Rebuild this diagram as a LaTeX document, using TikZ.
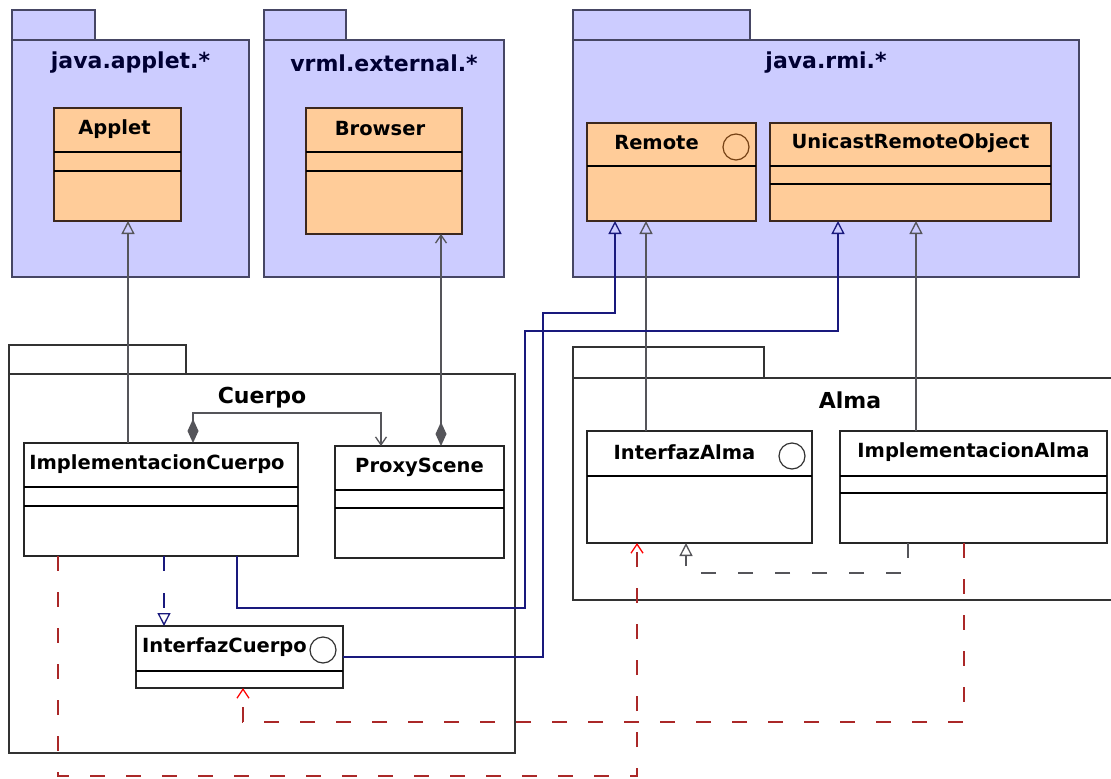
\documentclass[tikz,border=0pt]{standalone}
\usepackage{fontspec}
\setmainfont{DejaVu Sans}
\usetikzlibrary{arrows.meta,calc}

\definecolor{pkgfill}{RGB}{204,204,255}
\definecolor{pkgedge}{RGB}{70,70,100}
\definecolor{clsfill}{RGB}{255,204,153}
\definecolor{clsedge}{RGB}{60,40,30}
\definecolor{linkgray}{RGB}{85,85,90}
\definecolor{linkblue}{RGB}{25,25,125}
\definecolor{linkred}{RGB}{170,40,40}

\begin{document}
\begin{tikzpicture}[x=1pt, y=-1pt,
       pkg/.style={rectangle, draw=pkgedge, fill=pkgfill, line width=1.4pt,
               anchor=north west, inner sep=0pt, outer sep=0pt},
       wpkg/.style={pkg, draw=black!80, fill=white},
       tab/.style={anchor=south west},
       ptitle/.style={font=\fontsize{22}{26}\selectfont\bfseries, inner sep=0pt},
       cls/.style={rectangle, draw=clsedge, fill=clsfill, line width=1.4pt,
               anchor=north west, inner sep=0pt, outer sep=0pt},
       wcls/.style={cls, draw=black!85, fill=white},
       cname/.style={font=\fontsize{19.5}{22}\selectfont\bfseries, inner sep=0pt},
       iface/.style={circle, draw, line width=1.2pt, minimum size=26pt, inner sep=0pt},
       sep/.style={line width=1.4pt},
       gen/.style={draw=linkgray, line width=1.3pt, -{Triangle[open, length=13pt, width=13pt]}},
       bgen/.style={gen, draw=linkblue},
       comp/.style={draw=linkgray, line width=1.3pt,
               {Diamond[length=24pt, width=11pt]}-{Straight Barb[length=8pt, width=11pt]}},
       breal/.style={bgen, dash pattern=on 15pt off 22pt},
       greal/.style={gen, dash pattern=on 15pt off 22pt},
       dep/.style={draw=linkred, line width=1.3pt, dash pattern=on 15pt off 21pt,
               -{Straight Barb[length=9pt, width=12pt, color=red]}},
       ]
       \useasboundingbox (0,0) rectangle (1111,779);
       \clip (0,0) rectangle (1111,779);
       \fill[white] (0,0) rectangle (1111,779);

       % packages
       \node[pkg, minimum width=237, minimum height=237] (pkgapplet) at (12,40) {};
       \node[pkg, tab, minimum width=83, minimum height=30] at (pkgapplet.north west) {};
       \node[ptitle, text=black!80!blue] at ([yshift=-23pt]pkgapplet.north) {java.applet.*};

       \node[pkg, minimum width=240, minimum height=237] (pkgvrml) at (264,40) {};
       \node[pkg, tab, minimum width=82, minimum height=30] at (pkgvrml.north west) {};
       \node[ptitle, text=black!80!blue] at ([yshift=-23pt]pkgvrml.north) {vrml.external.*};

       \node[pkg, minimum width=506, minimum height=237] (pkgrmi) at (573,40) {};
       \node[pkg, tab, minimum width=177, minimum height=30] at (pkgrmi.north west) {};
       \node[ptitle, text=black!80!blue] at ([yshift=-23pt]pkgrmi.north) {java.rmi.*};

       \node[wpkg, minimum width=506, minimum height=379] (pkgcuerpo) at (9,374) {};
       \node[wpkg, tab, minimum width=177, minimum height=29] at (pkgcuerpo.north west) {};
       \node[ptitle] at ([yshift=-24pt]pkgcuerpo.north) {Cuerpo};

       \node[wpkg, minimum width=554, minimum height=222] (pkgalma) at (573,378) {};
       \node[wpkg, tab, minimum width=191, minimum height=31] at (pkgalma.north west) {};
       \node[ptitle] at ([yshift=-22pt]pkgalma.north) {Alma};

       % classes
       \node[cls, minimum width=127, minimum height=113] (applet) at (54,108) {};
       \node[cls, minimum width=156, minimum height=126] (browser) at (306,108) {};
       \node[cls, minimum width=169, minimum height=98] (remote) at (587,123) {};
       \node[cls, minimum width=281, minimum height=98] (unicast) at (770,123) {};
       \node[wcls, minimum width=274, minimum height=113] (implcuerpo) at (24,443) {};
       \node[wcls, minimum width=169, minimum height=112] (proxyscene) at (335,446) {};
       \node[wcls, minimum width=207, minimum height=62] (intcuerpo) at (136,626) {};
       \node[wcls, minimum width=225, minimum height=112] (intalma) at (587,431) {};
       \node[wcls, minimum width=267, minimum height=112] (implalma) at (840,431) {};

       \foreach \n/\d in {applet/44, applet/63, browser/44, browser/63, remote/43,
               unicast/43, unicast/61, implcuerpo/44, implcuerpo/63, proxyscene/44,
               proxyscene/62, intcuerpo/45, intalma/45, implalma/45, implalma/62}
               \draw[sep] ([yshift=-\d pt]\n.north west) -- ([yshift=-\d pt]\n.north east);

       \node[cname] at ([xshift=-3pt,yshift=-21pt]applet.north) {Applet};
       \node[cname] at ([xshift=-4pt,yshift=-21pt]browser.north) {Browser};
       \node[cname] at ([xshift=-15pt,yshift=-20pt]remote.north) {Remote};
       \node[cname] at ([yshift=-20pt]unicast.north) {UnicastRemoteObject};
       \node[cname] at ([xshift=-4pt,yshift=-21pt]implcuerpo.north) {ImplementacionCuerpo};
       \node[cname] at ([yshift=-21pt]proxyscene.north) {ProxyScene};
       \node[cname] at ([xshift=-15pt,yshift=-21pt]intcuerpo.north) {InterfazCuerpo};
       \node[cname] at ([xshift=-15pt,yshift=-21pt]intalma.north) {InterfazAlma};
       \node[cname] at ([yshift=-21pt]implalma.north) {ImplementacionAlma};

       \node[iface, draw=clsedge!70!orange] at ([xshift=-20pt,yshift=-24pt]remote.north east) {};
       \node[iface, draw=black!80] at ([xshift=-20pt,yshift=-24pt]intcuerpo.north east) {};
       \node[iface, draw=black!80] at ([xshift=-20pt,yshift=-25pt]intalma.north east) {};

       % connectors
       \draw[gen] (implcuerpo.north -| 128,0) -- (applet.south -| 128,0);
       \draw[gen] (intalma.north -| 646,0) -- (remote.south -| 646,0);
       \draw[gen] (implalma.north -| 916,0) -- (unicast.south -| 916,0);
       \draw[bgen] (implcuerpo.south -| 237,0) |- (525,608) |- (838,331) -- (unicast.south -| 838,0);
       \draw[bgen] (intcuerpo.east) -| (543,313) -| (remote.south -| 615,0);
       \draw[comp] (proxyscene.north -| 441,0) -- (browser.south -| 441,0);
       \draw[comp] (implcuerpo.north -| 193,0) |- (381,413) -- (proxyscene.north -| 381,0);
       \draw[breal] (implcuerpo.south -| 164,0) -- (intcuerpo.north -| 164,0);
       \draw[greal] (implalma.south -| 908,0) |- (686,573) -- (intalma.south -| 686,0);
       \draw[dep] (implcuerpo.south -| 58,0) |- (637,776) -- (intalma.south -| 637,0);
       \draw[dep] (implalma.south -| 964,0) |- (243,722) -- (intcuerpo.south -| 243,0);
\end{tikzpicture}
\end{document}
